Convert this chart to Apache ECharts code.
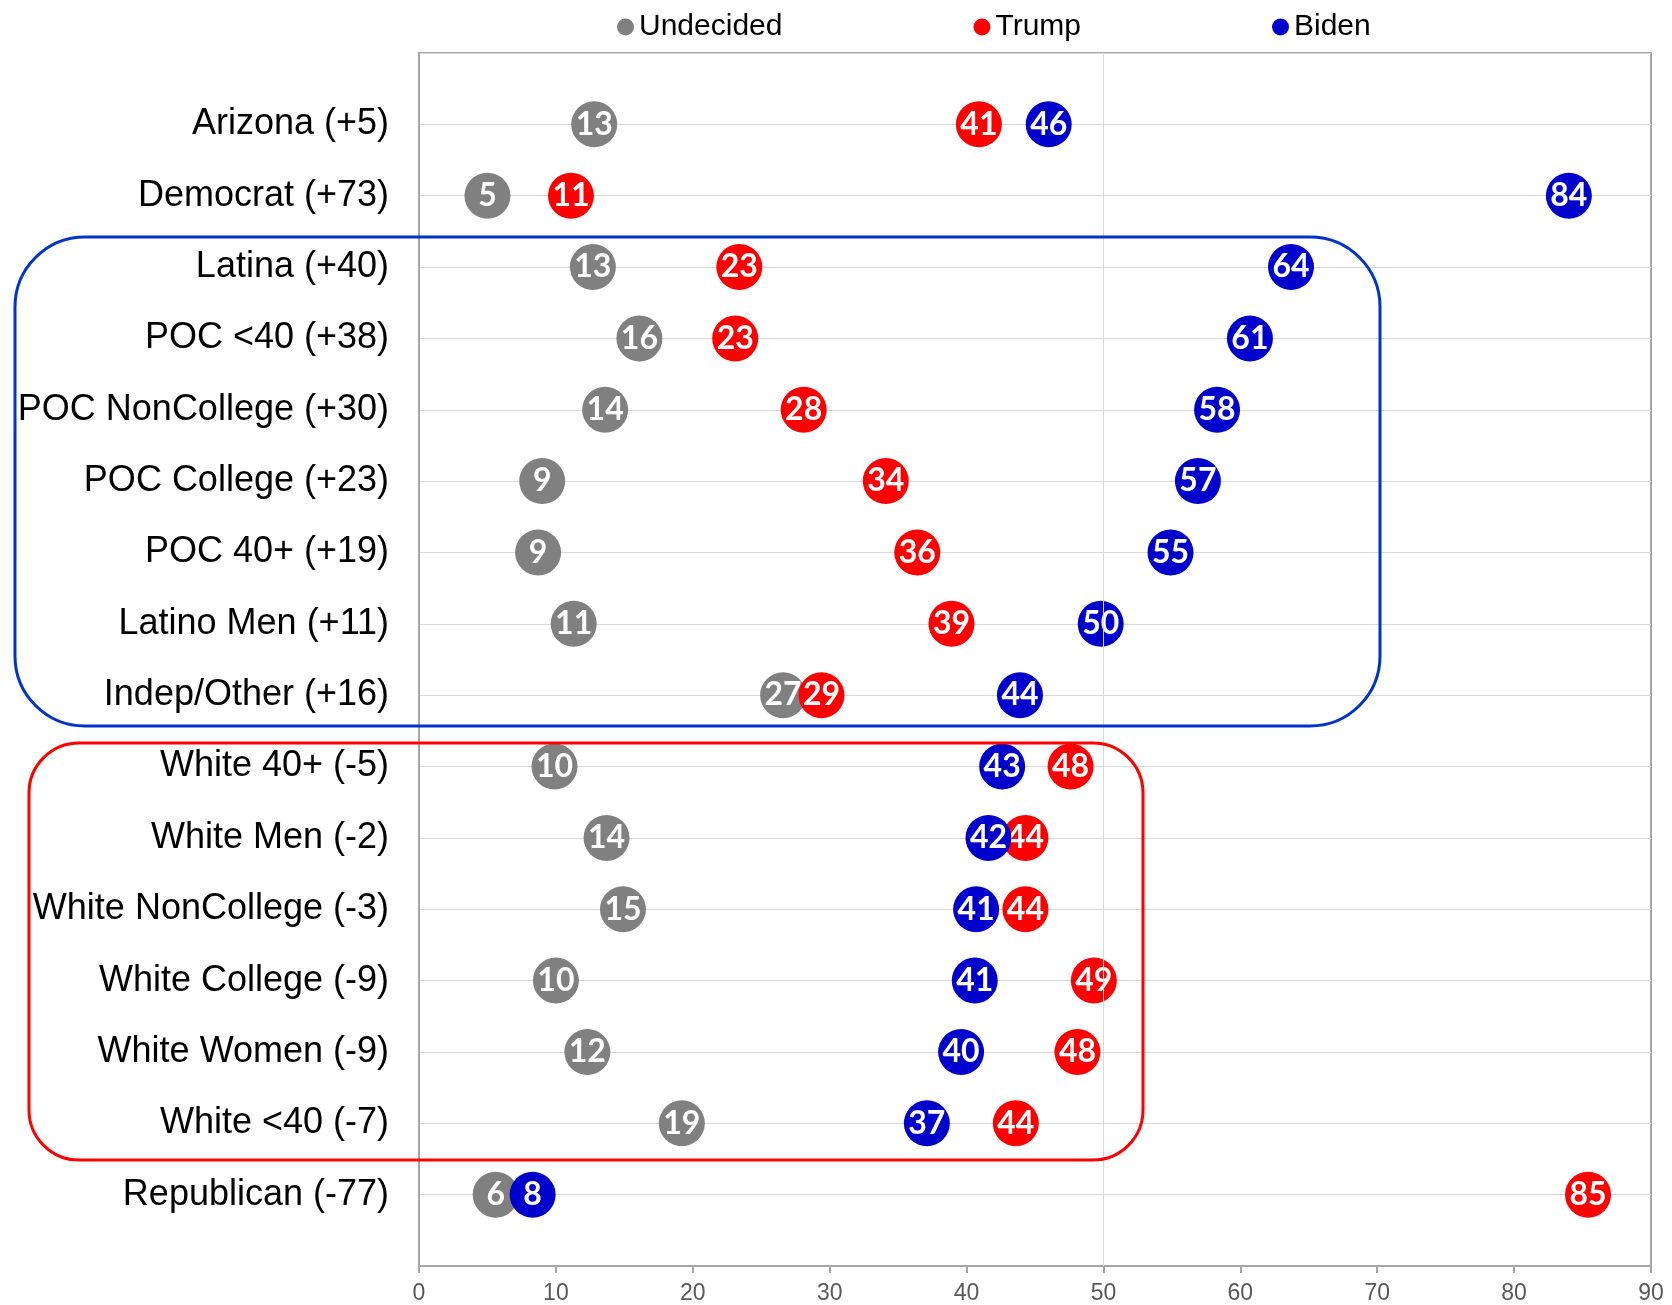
<!DOCTYPE html>
<html>
<head>
<meta charset="utf-8">
<script src="https://cdn.jsdelivr.net/npm/echarts@6/dist/echarts.min.js"></script>
<style>
  html, body { margin: 0; padding: 0; background: #fff; }
  #main { width: 1672px; height: 1305px; }
</style>
</head>
<body>
<div id="main"></div>
<script>
// groups, top to bottom (row 1..16 on the y axis)
const groups = [
  'Arizona (+5)', 'Democrat (+73)', 'Latina (+40)', 'POC <40 (+38)',
  'POC NonCollege (+30)', 'POC College (+23)', 'POC 40+ (+19)', 'Latino Men (+11)',
  'Indep/Other (+16)', 'White 40+ (-5)', 'White Men (-2)', 'White NonCollege (-3)',
  'White College (-9)', 'White Women (-9)', 'White <40 (-7)', 'Republican (-77)'
];
const undecided = [12.8, 5.0, 12.7, 16.1, 13.6, 9.0, 8.7, 11.3, 26.6, 9.9, 13.7, 14.9, 10.0, 12.3, 19.2, 5.6];
const trump     = [40.9, 11.1, 23.4, 23.1, 28.1, 34.1, 36.4, 38.9, 29.4, 47.6, 44.3, 44.3, 49.3, 48.1, 43.6, 85.4];
const biden     = [46.0, 84.0, 63.7, 60.7, 58.3, 56.9, 54.9, 49.8, 43.9, 42.6, 41.6, 40.7, 40.6, 39.6, 37.1, 8.3];
const xTicks = [0, 10, 20, 30, 40, 50, 60, 70, 80, 90];

const toPoints = (arr) => arr.map((v, i) => [v, i + 1]);

const dotSeries = (name, color, arr, z) => ({
  name: name,
  type: 'scatter',
  z: z,
  symbol: 'circle',
  symbolSize: 46,
  itemStyle: { color: color, opacity: 1 },
  label: {
    show: true,
    position: 'inside',
    color: '#fff',
    fontFamily: 'Lato',
    fontWeight: 'bold',
    fontSize: 32,
    formatter: (p) => Math.round(p.value[0])
  },
  data: toPoints(arr)
});

let myChart = echarts.init(document.getElementById('main'), null, { renderer: 'canvas' });

myChart.setOption({
  animation: false,
  textStyle: { fontFamily: 'Liberation Sans, Arial, sans-serif' },
  legend: {
    data: ['Undecided', 'Trump', 'Biden'],
    left: 612,
    top: 7,
    icon: 'circle',
    itemWidth: 17,
    itemHeight: 17,
    itemGap: 191,
    textStyle: { fontSize: 30, color: '#000', fontFamily: 'Liberation Sans' }
  },
  grid: {
    left: 419,
    right: 21,
    top: 53,
    bottom: 37,
    show: true,
    borderColor: '#a6a6a6',
    borderWidth: 2
  },
  xAxis: {
    type: 'value',
    min: xTicks[0],
    max: xTicks[xTicks.length - 1],
    interval: 10,
    axisLine: { show: true, onZero: false, lineStyle: { color: '#a6a6a6', width: 2 } },
    axisTick: { show: true, length: 7, lineStyle: { color: '#a6a6a6', width: 2 } },
    axisLabel: { color: '#595959', fontSize: 23, margin: 16 },
    splitLine: { show: false }
  },
  yAxis: {
    type: 'value',
    min: 0,
    max: groups.length + 1,
    interval: 1,
    inverse: true,
    axisLine: { show: true, onZero: false, lineStyle: { color: '#a6a6a6', width: 2 } },
    axisTick: { show: false },
    splitLine: { show: true, lineStyle: { color: '#d9d9d9', width: 1 } },
    axisLabel: {
      color: '#000',
      fontSize: 36,
      margin: 30,
      formatter: (v) => groups[v - 1] || ''
    }
  },
  series: [
    Object.assign(dotSeries('Undecided', '#808080', undecided, 2), {
      // light line at 50
      markLine: {
        silent: true,
        symbol: 'none',
        label: { show: false },
        lineStyle: { color: '#d9d9d9', width: 1, type: 'solid' },
        data: [{ xAxis: 50 }]
      }
    }),
    dotSeries('Trump', '#ff0000', trump, 3),
    dotSeries('Biden', '#0000cc', biden, 4)
  ],
  // the two rounded boxes around the groups
  graphic: [
    {
      type: 'rect',
      shape: { x: 15, y: 237, width: 1365, height: 489, r: 70 },
      style: { fill: 'none', stroke: '#0033cc', lineWidth: 3 },
      z: 10
    },
    {
      type: 'rect',
      shape: { x: 29, y: 743, width: 1114, height: 417, r: 50 },
      style: { fill: 'none', stroke: '#ff0000', lineWidth: 3 },
      z: 10
    }
  ]
});

window.onresize = function () {
  myChart.resize();
};
</script>
</body>
</html>
